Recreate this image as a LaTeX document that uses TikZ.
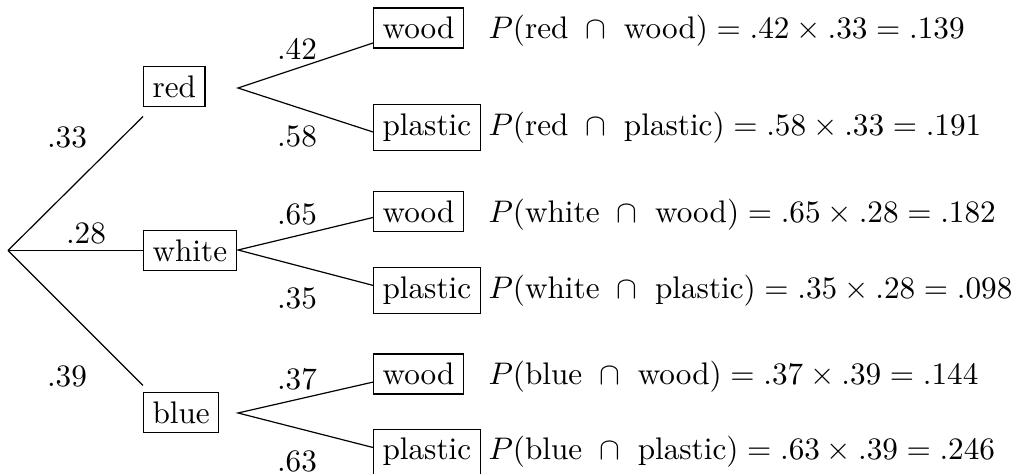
\RequirePackage{fix-cm}
\documentclass[tikz,border=0pt]{standalone}
\usepackage{amsmath}
\usepackage{tikz}

\newcommand{\jointp}[5]{$P(\text{#1}\ \cap\ \text{#2}) = #3 \times #4 = #5$}

\begin{document}
\begin{tikzpicture}[x=0.3333pt, y=-0.3333pt,
    every node/.style={font=\fontsize{10.4}{12.5}\selectfont},
    choice/.style={draw, anchor=west, inner sep=3pt},
    prob/.style={inner sep=0pt},
    joint/.style={anchor=base west, inner sep=3pt}]
    \useasboundingbox (0,0) rectangle (1016,474);

    % colour of the ball
    \coordinate (root) at (8,250.5);
    \node[choice] (red) at (143,86.5) {red};
    \node[choice] (white) at (143,250.5) {white};
    \node[choice] (blue) at (143,412.5) {blue};
    \draw (root) -- ([yshift=-10pt]red.west);
    \draw (root) -- (white.west);
    \draw (root) -- ([yshift=9pt]blue.west);
    \node[prob] at (67,137) {.33};
    \node[prob] at (86,233) {.28};
    \node[prob] at (67,376) {.39};

    % material, red branch
    \coordinate (rfork) at (238,88);
    \node[choice] (rw) at (373,28) {wood};
    \node[choice] (rp) at (373,127.5) {plastic};
    \draw ([yshift=-5pt]rw.west) -- (rfork) -- ([yshift=-1.5pt]rp.west);
    \node[prob] at (297,49) {.42};
    \node[prob] at (297,136) {.58};

    % material, white branch
    \coordinate (wfork) at (238,250);
    \node[choice] (ww) at (373,211.5) {wood};
    \node[choice] (wp) at (373,290.5) {plastic};
    \draw ([yshift=-2pt]ww.west) -- (wfork) -- ([yshift=1.7pt]wp.west);
    \node[prob] at (297,214) {.65};
    \node[prob] at (297,298) {.35};

    % material, blue branch
    \coordinate (bfork) at (238,413);
    \node[choice] (bw) at (373,374) {wood};
    \node[choice] (bp) at (373,452) {plastic};
    \draw ([yshift=-2.7pt]bw.west) -- (bfork) -- ([yshift=1.5pt]bp.west);
    \node[prob] at (297,379) {.37};
    \node[prob] at (297,461) {.63};

    % joint probabilities
    \coordinate (fx) at (479,0);
    \node[joint] (prw) at (rw.base -| fx) {\jointp{red}{wood}{.42}{.33}{.139}};
    \node[joint] (prp) at (rp.base -| fx) {\jointp{red}{plastic}{.58}{.33}{.191}};
    \node[joint] (pww) at (ww.base -| fx) {\jointp{white}{wood}{.65}{.28}{.182}};
    \node[joint] (pwp) at (wp.base -| fx) {\jointp{white}{plastic}{.35}{.28}{.098}};
    \node[joint] (pbw) at (bw.base -| fx) {\jointp{blue}{wood}{.37}{.39}{.144}};
    \node[joint] (pbp) at (bp.base -| fx) {\jointp{blue}{plastic}{.63}{.39}{.246}};
\end{tikzpicture}
\end{document}
